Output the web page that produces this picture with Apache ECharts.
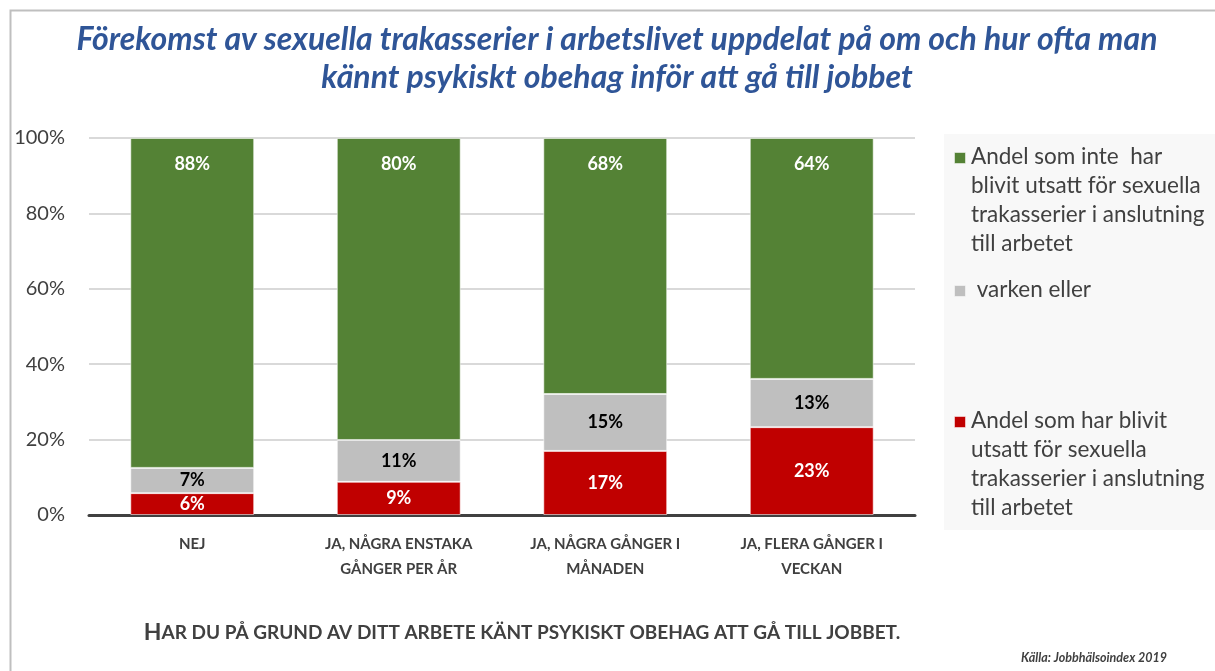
<html lang="sv">
<head>
	<meta charset="UTF-8">
	<script src="https://cdn.jsdelivr.net/npm/echarts@6/dist/echarts.min.js"></script>
	<title>Sexuella trakasserier</title>
</head>
<body style="margin:0">
<div id="pic" style="width:1215px;height:671px"></div>
</body>
<script>
	"use strict";

	const categories=["NEJ","JA, NÅGRA ENSTAKA\nGÅNGER PER ÅR","JA, NÅGRA GÅNGER I\nMÅNADEN","JA, FLERA GÅNGER I\nVECKAN"];
	const seriesNames=["Andel som har blivit\nutsatt för sexuella\ntrakasserier i anslutning\ntill arbetet"," varken eller","Andel som inte  har\nblivit utsatt för sexuella\ntrakasserier i anslutning\ntill arbetet"];
	const redVals=[5.8,8.8,17.0,23.3];
	const greyVals=[6.7,11.1,15.1,12.8];
	const greenVals=[87.5,80.1,67.9,63.9];
	const yTicks=[0,20,40,60,80,100];

	const ff="Lato, 'Open Sans', sans-serif";
	const txt="#404040";
	const cols=["#C00000","#BFBFBF","#548235"];

	function lab(color,pos,dist)
	{
		return {
			show:true,
			position:pos,
			distance:dist,
			color:color,
			fontFamily:ff,
			fontWeight:"bold",
			fontSize:18,
			formatter:p=>Math.round(p.value)+"%"
		};
	}

	function bar(i,vals,label)
	{
		return {
			name:seriesNames[i],
			type:"bar",
			stack:"a",
			barWidth:"60%",
			data:vals,
			itemStyle:{color:cols[i],borderColor:"rgba(255,255,255,0.55)",borderWidth:1},
			label:label
		};
	}

	// legend drawn by hand: the boxes sit at the first text line
	let leg=[{type:"rect",left:944,top:134,shape:{width:271,height:396},style:{fill:"#f8f8f8"}}];
	const legTop=[147,280,411];
	const legOrder=[2,1,0];
	for(let k=0; k<3; k++)
	{
		let i=legOrder[k];
		leg.push({type:"rect",left:954,top:legTop[k]+5,shape:{width:11,height:11},
			style:{fill:cols[i],stroke:"rgba(255,255,255,0.5)",lineWidth:1}});
		leg.push({type:"text",left:971,top:legTop[k]-5,
			style:{text:seriesNames[i],fill:txt,font:"22.5px "+ff,lineHeight:29}});
	}
	leg.push({type:"rect",left:8,top:8,shape:{width:1220,height:680},
		style:{fill:"none",stroke:"#bfbfbf",lineWidth:2},silent:true});

	let pic=echarts.init(document.getElementById("pic"));
	let option=
		{
			backgroundColor:"#fff",
			animation:false,
			title:[{
				text:"Förekomst av sexuella trakasserier i arbetslivet uppdelat på om och hur ofta man\nkännt psykiskt obehag inför att gå till jobbet",
				left:612,
				top:16,
				textAlign:"center",
				textStyle:{color:"#2F5597",fontFamily:ff,fontStyle:"italic",fontWeight:"bold",fontSize:32,lineHeight:38}
			},{
				text:"Källa: Jobbhälsoindex 2019",
				right:43,
				top:646,
				textStyle:{color:txt,fontFamily:ff,fontStyle:"italic",fontWeight:"bold",fontSize:12.5}
			}],
			grid:{left:89,right:300,top:138,bottom:156},
			xAxis:{
				type:"category",
				data:categories,
				axisLine:{lineStyle:{color:"#404040",width:3}},
				axisTick:{show:false},
				axisLabel:{interval:0,color:txt,fontFamily:ff,fontWeight:"bold",fontSize:15,lineHeight:25,margin:17},
				name:"{b|H}{s|AR DU PÅ GRUND AV DITT ARBETE KÄNT PSYKISKT OBEHAG ATT GÅ TILL JOBBET.}",
				nameLocation:"middle",
				nameGap:106,
				nameTextStyle:{
					padding:[0,0,0,40],
					rich:{
						b:{color:txt,fontFamily:ff,fontWeight:"bold",fontSize:23},
						s:{color:txt,fontFamily:ff,fontWeight:"bold",fontSize:19}
					}
				}
			},
			yAxis:{
				type:"value",
				min:yTicks[0],
				max:yTicks[yTicks.length-1],
				interval:20,
				axisLine:{show:false},
				axisTick:{show:false},
				splitLine:{lineStyle:{color:"#d9d9d9",width:2}},
				axisLabel:{color:txt,fontFamily:ff,fontSize:20,margin:24,formatter:"{value}%"}
			},
			series:[
				bar(0,redVals,lab("#fff","inside",5)),
				bar(1,greyVals,lab("#000","inside",5)),
				bar(2,greenVals,lab("#fff","insideTop",17))
			],
			graphic:leg
		};
	pic.setOption(option);
</script>
</html>
